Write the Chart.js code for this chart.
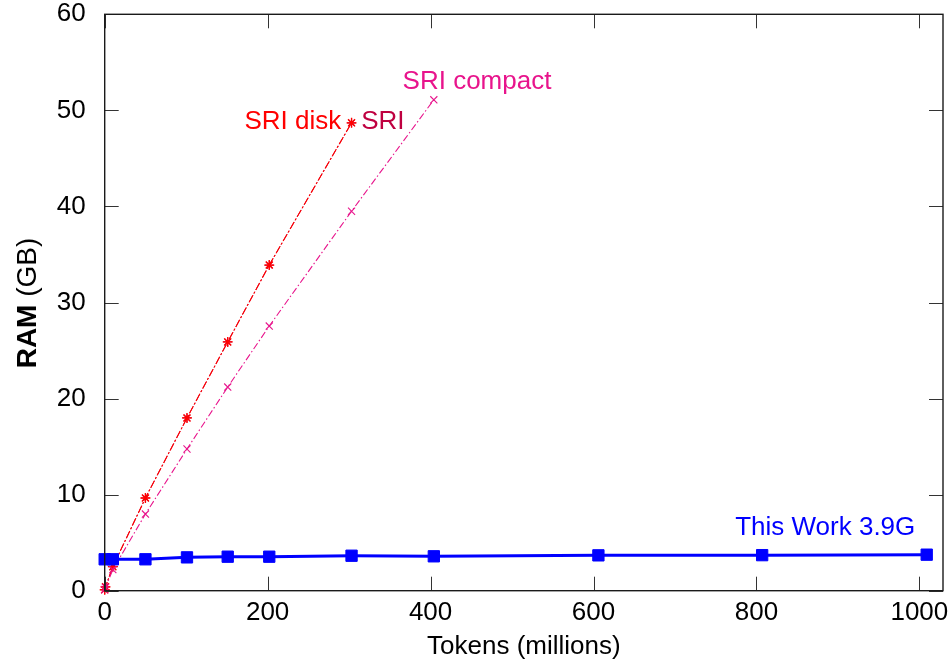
<!DOCTYPE html>
<html><head><meta charset="utf-8">
<script src="https://cdn.jsdelivr.net/npm/chart.js@4.4.1/dist/chart.umd.min.js"></script>
<style>html,body{margin:0;padding:0;background:#fff}#wrap{width:952px;height:666px}</style>
</head><body><div id="wrap"><canvas id="c" width="952" height="666"></canvas></div>
<script>
// ---- data ----
const thisWorkX = [0, 10, 50, 101, 151, 202, 303, 404, 606, 807, 1009];
const thisWorkY = [3.27, 3.27, 3.27, 3.47, 3.54, 3.54, 3.64, 3.58, 3.68, 3.70, 3.75];
const sriX = [0, 1, 10, 50, 101, 151, 202, 303];
const sriY = [0.1, 0.4, 2.5, 9.65, 17.98, 25.9, 33.9, 48.7];
const sriDiskX = [0, 1, 10, 50, 101, 151, 202, 303];
const sriDiskY = [0.1, 0.4, 2.5, 9.65, 17.98, 25.9, 33.9, 48.7];
const sriCompactX = [0, 1, 10, 50, 101, 151, 202, 303, 404];
const sriCompactY = [0.1, 0.35, 2.2, 7.98, 14.75, 21.2, 27.55, 39.5, 51.1];
const xTickValues = [0, 200, 400, 600, 800, 1000];
const yTickValues = [0, 10, 20, 30, 40, 50, 60];
const seriesNames = ['SRI', 'SRI disk', 'SRI compact', 'This Work 3.9G'];

// label anchors (data coordinates) and alignment
const labelSpecs = [
  {text: 'SRI compact', x: 457, y: 52.95, align: 'center', color: '#e8148c'},
  {text: 'SRI disk', x: 290.4, y: 48.8, align: 'right', color: '#ff0000'},
  {text: 'SRI', x: 314.8, y: 48.8, align: 'left', color: '#bf0040'},
  {text: 'This Work 3.9G', x: 995, y: 6.53, align: 'right', color: '#0000ff'}
];

const FONT = '"Liberation Sans", Arial, sans-serif';
const FS = 26;
const pts = (xs, ys) => xs.map((x, i) => ({x, y: ys[i]}));

const frame = {
  id: 'frame',
  afterDatasetsDraw(chart) {
    const {ctx, chartArea: a, scales: {x, y}} = chart;
    ctx.save();
    ctx.strokeStyle = '#333';
    ctx.lineWidth = 1;
    const L = 14;
    ctx.beginPath();
    xTickValues.forEach(v => {
      const px = Math.round(x.getPixelForValue(v)) + 0.5;
      ctx.moveTo(px, a.bottom); ctx.lineTo(px, a.bottom - L);
      ctx.moveTo(px, a.top); ctx.lineTo(px, a.top + L);
    });
    yTickValues.forEach(v => {
      const py = Math.round(y.getPixelForValue(v)) + 0.5;
      ctx.moveTo(a.left, py); ctx.lineTo(a.left + L, py);
      ctx.moveTo(a.right, py); ctx.lineTo(a.right - L, py);
    });
    ctx.stroke();
    ctx.strokeStyle = '#1a1a1a';
    ctx.lineWidth = 1.4;
    ctx.strokeRect(a.left, a.top, a.right - a.left, a.bottom - a.top);
    // series labels
    ctx.textBaseline = 'middle';
    ctx.font = FS + 'px ' + FONT;
    labelSpecs.forEach(l => {
      ctx.fillStyle = l.color;
      ctx.textAlign = l.align;
      ctx.fillText(l.text, x.getPixelForValue(l.x), y.getPixelForValue(l.y));
    });
    // y axis title with bold "RAM"
    ctx.translate(28, 303);
    ctx.rotate(-Math.PI / 2);
    ctx.fillStyle = '#000';
    ctx.textAlign = 'left';
    const TS = 28;
    const bold = 'bold ' + TS + 'px ' + FONT, reg = TS + 'px ' + FONT;
    ctx.font = bold; const w1 = ctx.measureText('RAM').width;
    ctx.font = reg; const w2 = ctx.measureText(' (GB)').width;
    const start = -(w1 + w2) / 2;
    ctx.font = bold; ctx.fillText('RAM', start, 0);
    ctx.font = reg; ctx.fillText(' (GB)', start + w1, 0);
    ctx.restore();
  }
};

new Chart(document.getElementById('c'), {
  type: 'scatter',
  data: {
    datasets: [
      {label: seriesNames[0], data: pts(sriX, sriY), showLine: true, borderColor: '#bf0040', backgroundColor: '#bf0040',
       borderWidth: 1, borderDash: [8, 2, 2, 2], pointStyle: 'star', pointRadius: 4.5, pointBorderWidth: 1.2, clip: false, order: 4},
      {label: seriesNames[1], data: pts(sriDiskX, sriDiskY), showLine: true, borderColor: '#ff0000', backgroundColor: '#ff0000',
       borderWidth: 1.1, borderDash: [8, 2, 2, 2], pointStyle: 'star', pointRadius: 5, pointBorderWidth: 1.3, clip: false, order: 3},
      {label: seriesNames[2], data: pts(sriCompactX, sriCompactY), showLine: true, borderColor: '#e8148c', backgroundColor: '#e8148c',
       borderWidth: 1.1, borderDash: [7, 2.5, 1.5, 2.5], pointStyle: 'crossRot', pointRadius: 5, pointBorderWidth: 1.1, clip: false, order: 2},
      {label: seriesNames[3], data: pts(thisWorkX, thisWorkY), showLine: true, borderColor: '#0000ff', backgroundColor: '#0000ff',
       borderWidth: 3, pointStyle: 'rect', pointRadius: 8, pointBorderWidth: 1, clip: false, order: 1}
    ]
  },
  options: {
    responsive: false, animation: false, devicePixelRatio: 1,
    layout: {padding: {left: 0, right: 6.3, top: 14.3, bottom: 0}},
    plugins: {legend: {display: false}, tooltip: {enabled: false}},
    elements: {line: {tension: 0}},
    scales: {
      x: {
        type: 'linear', min: 0, max: 1029,
        afterBuildTicks: s => { s.ticks = xTickValues.map(v => ({value: v})); },
        afterFit: s => { s.height = 75.3; s.paddingLeft = 0; s.paddingRight = 0; },
        grid: {display: false, drawTicks: false}, border: {display: false},
        ticks: {padding: 7, color: '#000', maxRotation: 0, autoSkip: false, font: {family: FONT, size: FS},
                callback: v => String(v)},
        title: {display: true, text: 'Tokens (millions)', color: '#000', font: {family: FONT, size: FS}, padding: {top: 0, bottom: 4}}
      },
      y: {
        type: 'linear', min: 0, max: 60,
        afterBuildTicks: s => { s.ticks = yTickValues.map(v => ({value: v})); },
        afterFit: s => { s.width = 104.7; s.paddingTop = 0; s.paddingBottom = 0; },
        grid: {display: false, drawTicks: false}, border: {display: false},
        ticks: {padding: 19, color: '#000', autoSkip: false, font: {family: FONT, size: FS},
                callback: v => String(v)}
      }
    }
  },
  plugins: [frame]
});
</script></body></html>
